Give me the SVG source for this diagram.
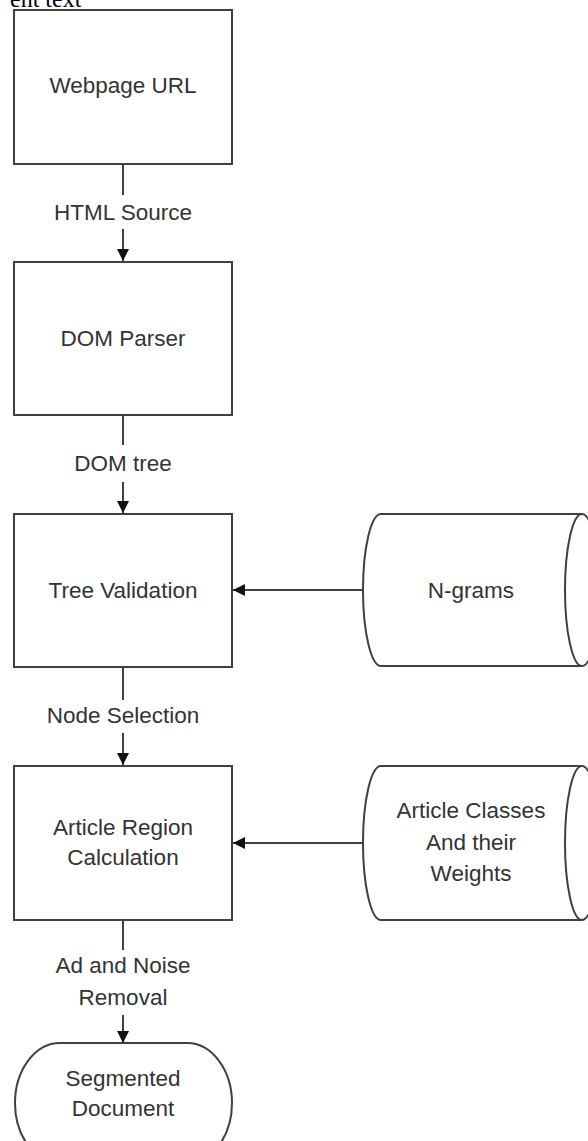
<svg xmlns="http://www.w3.org/2000/svg" width="588" height="1141" viewBox="0 0 588 1141">
<style>
.shape{fill:#fff;stroke:#404040;stroke-width:2}
.conn{fill:none;stroke:#404040;stroke-width:2}
.lbl{font-family:"Liberation Sans",Arial,sans-serif;font-size:22.5px;fill:#333;text-anchor:middle}
.cap{font-family:"Liberation Serif","Times New Roman",serif;font-size:24px;fill:#000}
</style>
<defs>
<marker id="arr" viewBox="0 0 12 12" refX="12" refY="6" markerWidth="12" markerHeight="12" markerUnits="userSpaceOnUse" orient="auto">
<path d="M0,0 L12,6 L0,12 Z" fill="#111"/>
</marker>
</defs>
<rect width="588" height="1141" fill="#fff"/>
<text class="cap" x="10" y="7">ent text</text>
<g id="connectors">
<line class="conn" x1="123" y1="164" x2="123" y2="195"/>
<line class="conn" x1="123" y1="229" x2="123" y2="261" marker-end="url(#arr)"/>
<line class="conn" x1="123" y1="415" x2="123" y2="445"/>
<line class="conn" x1="123" y1="482" x2="123" y2="513" marker-end="url(#arr)"/>
<line class="conn" x1="123" y1="667" x2="123" y2="700"/>
<line class="conn" x1="123" y1="733" x2="123" y2="765" marker-end="url(#arr)"/>
<line class="conn" x1="123" y1="920" x2="123" y2="950"/>
<line class="conn" x1="123" y1="1015" x2="123" y2="1043" marker-end="url(#arr)"/>
<line class="conn" x1="363" y1="590" x2="233" y2="590" marker-end="url(#arr)"/>
<line class="conn" x1="363" y1="843" x2="233" y2="843" marker-end="url(#arr)"/>
<text class="lbl" x="123" y="220">HTML Source</text>
<text class="lbl" x="123" y="471">DOM tree</text>
<text class="lbl" x="123" y="723">Node Selection</text>
<text class="lbl" x="123" y="973">Ad and Noise</text>
<text class="lbl" x="123" y="1005">Removal</text>
</g>
<g id="webpage-url">
<rect class="shape" x="14" y="10" width="218" height="154"/>
<text class="lbl" x="123" y="93">Webpage URL</text>
</g>
<g id="dom-parser">
<rect class="shape" x="14" y="262" width="218" height="153"/>
<text class="lbl" x="123" y="346">DOM Parser</text>
</g>
<g id="tree-validation">
<rect class="shape" x="14" y="514" width="218" height="153"/>
<text class="lbl" x="123" y="598">Tree Validation</text>
</g>
<g id="article-region">
<rect class="shape" x="14" y="766" width="218" height="154"/>
<text class="lbl" x="123" y="835">Article Region</text>
<text class="lbl" x="123" y="865">Calculation</text>
</g>
<g id="segmented-document">
<rect class="shape" x="15" y="1043" width="217" height="120" rx="45" ry="60"/>
<text class="lbl" x="123" y="1086">Segmented</text>
<text class="lbl" x="123" y="1116">Document</text>
</g>
<g id="n-grams">
<path class="shape" d="M381,514 H582 A17,76 0 0 1 582,666 H381 A18,76 0 0 1 381,514 Z"/>
<path class="conn" d="M582,514 A17,76 0 0 0 582,666"/>
<text class="lbl" x="471" y="598">N-grams</text>
</g>
<g id="article-classes">
<path class="shape" d="M381,766 H582 A17,77 0 0 1 582,920 H381 A18,77 0 0 1 381,766 Z"/>
<path class="conn" d="M582,766 A17,77 0 0 0 582,920"/>
<text class="lbl" x="471" y="818">Article Classes</text>
<text class="lbl" x="471" y="850">And their</text>
<text class="lbl" x="471" y="881">Weights</text>
</g>
</svg>
